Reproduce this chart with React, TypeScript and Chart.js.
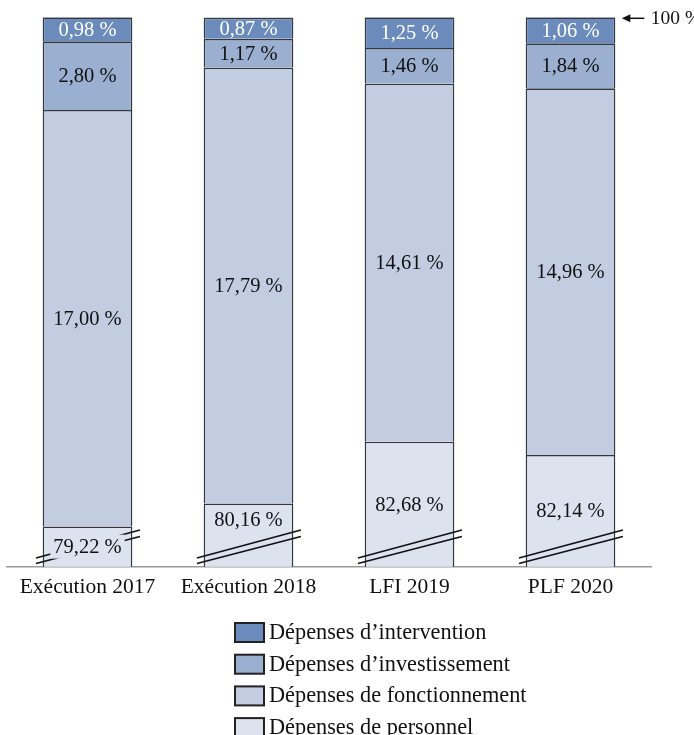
import { useEffect, useRef } from "react";
import { Chart, registerables } from "chart.js";

Chart.register(...registerables);

// ---- data ----
const categories = ["Exécution 2017", "Exécution 2018", "LFI 2019", "PLF 2020"];
const personnel = [79.22, 80.16, 82.68, 82.14];
const fonctionnement = [17.0, 17.79, 14.61, 14.96];
const investissement = [2.8, 1.17, 1.46, 1.84];
const intervention = [0.98, 0.87, 1.25, 1.06];
const seriesNames = [
  "Dépenses de personnel",
  "Dépenses de fonctionnement",
  "Dépenses d’investissement",
  "Dépenses d’intervention",
];
const axisMin = 77.58;
const axisMax = 100;
const markerLabel = "100 %";

// ---- styles ----
const FONT = '"Liberation Serif", "Times New Roman", serif';
const colors = ["#dce3ef", "#c2cde1", "#9bb0d0", "#6a8bbb"];
const labelColors = ["#111111", "#111111", "#111111", "#ffffff"];
const bottomLabelLift = [0, 15, 0, 0];

const fmt = (v: number) => v.toFixed(2).replace(".", ",") + " %";

const overlayPlugin = {
  id: "overlay",
  afterDatasetsDraw(chart: any) {
    const ctx = chart.ctx as CanvasRenderingContext2D;
    const area = chart.chartArea;
    const bottomMeta = chart.getDatasetMeta(0);

    // axis-break marks
    ctx.save();
    ctx.strokeStyle = "#111";
    ctx.lineWidth = 1.7;
    bottomMeta.data.forEach((bar: any) => {
      const { x, width } = bar.getProps(["x", "width"], true);
      const L = x - width / 2;
      const R = x + width / 2;
      const B = area.bottom;
      const lines = [
        [-8.7, -36.7],
        [-3.2, -30.2],
      ];
      lines.forEach(([y1, y2]) => {
        ctx.beginPath();
        ctx.moveTo(L - 6.7, B + y1);
        ctx.lineTo(R + 7.6, B + y2);
        ctx.stroke();
      });
    });
    ctx.restore();

    // value labels
    ctx.save();
    ctx.font = `20.5px ${FONT}`;
    ctx.textAlign = "center";
    ctx.textBaseline = "middle";
    chart.data.datasets.forEach((ds: any, i: number) => {
      const meta = chart.getDatasetMeta(i);
      meta.data.forEach((bar: any, j: number) => {
        const { x, y, base } = bar.getProps(["x", "y", "base"], true);
        const top = Math.max(Math.min(y, base), area.top);
        const bot = Math.min(Math.max(y, base), area.bottom);
        let cy = (top + bot) / 2;
        const text = fmt(ds.data[j]);
        if (i === 0) {
          cy -= bottomLabelLift[j];
          const w = ctx.measureText(text).width + 6;
          ctx.fillStyle = colors[0];
          ctx.fillRect(x - w / 2, cy - 12, w, 24);
        }
        ctx.fillStyle = labelColors[i];
        ctx.fillText(text, x, cy + 1);
      });
    });
    ctx.restore();
  },
  afterDraw(chart: any) {
    const ctx = chart.ctx as CanvasRenderingContext2D;
    const area = chart.chartArea;
    const yScale = chart.scales.y;

    // 100 % marker
    const lastMeta = chart.getDatasetMeta(chart.data.datasets.length - 1);
    const lastBar = lastMeta.data[lastMeta.data.length - 1];
    const { x, width } = lastBar.getProps(["x", "width"], true);
    const R = x + width / 2;
    const my = yScale.getPixelForValue(axisMax) + 1;
    ctx.save();
    ctx.strokeStyle = "#111";
    ctx.fillStyle = "#111";
    ctx.lineWidth = 1.5;
    ctx.beginPath();
    ctx.moveTo(R + 12, my);
    ctx.lineTo(R + 29, my);
    ctx.stroke();
    ctx.beginPath();
    ctx.moveTo(R + 6.5, my);
    ctx.lineTo(R + 15, my - 4);
    ctx.lineTo(R + 15, my + 4);
    ctx.closePath();
    ctx.fill();
    ctx.font = `19.5px ${FONT}`;
    ctx.textAlign = "left";
    ctx.textBaseline = "middle";
    ctx.fillStyle = "#111";
    ctx.fillText(markerLabel, R + 35.5, my + 1);
    ctx.restore();

    // legend (top to bottom: reverse stack order)
    ctx.save();
    const left = area.left + 227;
    const top0 = area.bottom + 55.3;
    const step = 31.7;
    ctx.font = `22.3px ${FONT}`;
    ctx.textAlign = "left";
    ctx.textBaseline = "middle";
    const order = [3, 2, 1, 0];
    order.forEach((si, k) => {
      const yTop = top0 + k * step;
      ctx.fillStyle = colors[si];
      ctx.fillRect(left + 1, yTop + 1, 29, 19);
      ctx.strokeStyle = "#222";
      ctx.lineWidth = 2;
      ctx.strokeRect(left + 1, yTop + 1, 29, 19);
      ctx.fillStyle = "#111";
      ctx.fillText(seriesNames[si], left + 35, yTop + 11);
    });
    ctx.restore();
  },
};

export default function App() {
  const ref = useRef<HTMLCanvasElement | null>(null);

  useEffect(() => {
    if (!ref.current) return;
    const series = [personnel, fonctionnement, investissement, intervention];
    const chart = new Chart(ref.current, {
      type: "bar",
      data: {
        labels: categories,
        datasets: series.map((d, i) => ({
          label: seriesNames[i],
          data: d,
          backgroundColor: colors[i],
          borderColor: "#33373e",
          borderWidth: 1.6,
          borderSkipped: "bottom",
          categoryPercentage: 1,
          barPercentage: 0.557,
        })),
      },
      options: {
        animation: false,
        responsive: false,
        maintainAspectRatio: false,
        layout: { padding: { top: 17.3, left: 7, right: 43, bottom: 138.3 } },
        plugins: {
          legend: { display: false },
          tooltip: { enabled: false },
          title: { display: false },
        },
        scales: {
          x: {
            stacked: true,
            offset: true,
            grid: { display: false, drawTicks: false },
            border: { display: true, color: "#9a9a9a", width: 1.5 },
            ticks: {
              color: "#111",
              font: { family: FONT, size: 21.5 },
              padding: 8,
              maxRotation: 0,
              autoSkip: false,
            },
            afterFit: (scale: any) => {
              scale.height = 30;
            },
          },
          y: {
            stacked: true,
            display: false,
            min: axisMin,
            max: axisMax,
          },
        },
      },
      plugins: [overlayPlugin],
    });
    return () => chart.destroy();
  }, []);

  return (
    <div style={{ position: "absolute", left: 0, top: 0, width: 694, height: 735, background: "#fff" }}>
      <canvas ref={ref} width={694} height={735} style={{ width: 694, height: 735, display: "block" }} />
    </div>
  );
}
